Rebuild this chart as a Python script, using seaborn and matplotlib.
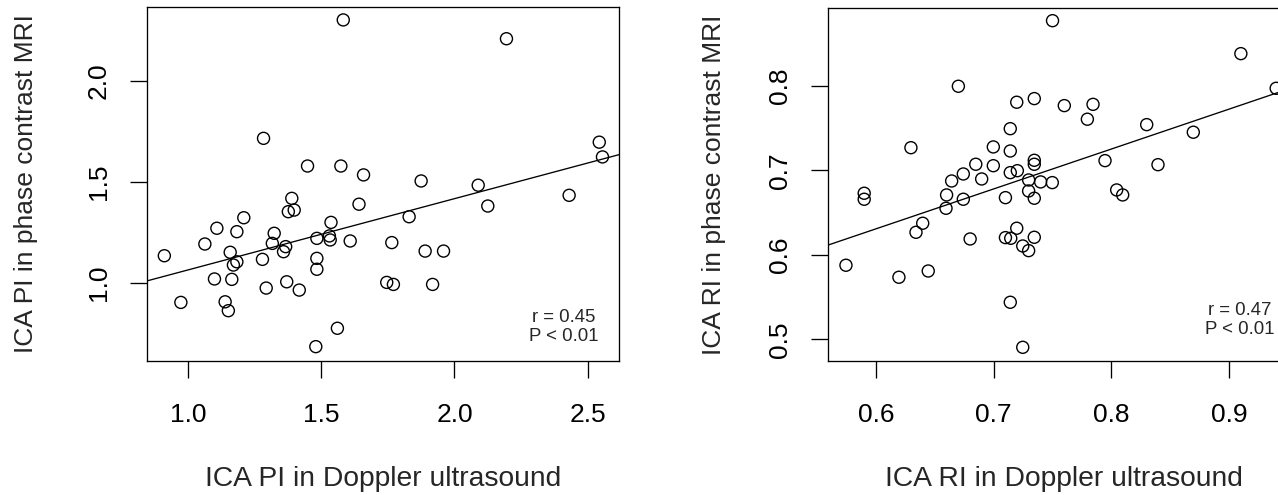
import numpy as np
import matplotlib
matplotlib.use("Agg")
import matplotlib.pyplot as plt
import seaborn as sns

# ---- data ----
pi_doppler = [1.583, 2.195, 1.284, 2.543, 2.555, 1.449, 1.574, 1.659, 1.875, 2.089,
              1.390, 2.430, 1.642, 2.125, 0.912, 0.974, 1.064, 1.109, 1.100, 1.140,
              1.152, 1.159, 1.165, 1.171, 1.184, 1.184, 1.210, 1.280, 1.294, 1.324,
              1.317, 1.367, 1.359, 1.371, 1.377, 1.399, 1.418, 1.484, 1.484, 1.484,
              1.480, 1.537, 1.531, 1.534, 1.561, 1.609, 1.765, 1.746, 1.771, 1.830,
              1.890, 1.959, 1.918]
pi_mri = [2.302, 2.209, 1.716, 1.697, 1.624, 1.579, 1.579, 1.535, 1.505, 1.484,
          1.419, 1.434, 1.390, 1.381, 1.135, 0.904, 1.193, 1.271, 1.020, 0.907,
          0.863, 1.152, 1.018, 1.089, 1.105, 1.254, 1.323, 1.117, 0.975, 1.246,
          1.196, 1.180, 1.155, 1.006, 1.353, 1.361, 0.965, 1.221, 1.122, 1.068,
          0.685, 1.300, 1.233, 1.213, 0.776, 1.208, 1.200, 1.003, 0.993, 1.328,
          1.158, 1.158, 0.993]

ri_doppler = [0.750, 0.910, 0.940, 0.670, 0.7196, 0.7345, 0.760, 0.7844, 0.7796, 0.830,
              0.8696, 0.7141, 0.6297, 0.6997, 0.7141, 0.6848, 0.6997, 0.7345, 0.7345, 0.7946,
              0.8396, 0.6742, 0.6643, 0.6898, 0.7141, 0.7201, 0.7297, 0.7399, 0.7498, 0.7297,
              0.7345, 0.8045, 0.8096, 0.590, 0.590, 0.660, 0.6742, 0.710, 0.6595, 0.6397,
              0.634, 0.680, 0.710, 0.7145, 0.7196, 0.7345, 0.7247, 0.7297, 0.5745, 0.6195,
              0.6444, 0.7141, 0.7247]
ri_mri = [0.877, 0.838, 0.797, 0.7994, 0.7805, 0.7848, 0.7765, 0.778, 0.7604, 0.754,
          0.745, 0.7492, 0.7267, 0.7276, 0.7228, 0.7071, 0.7054, 0.7118, 0.7071, 0.7114,
          0.7066, 0.6956, 0.6873, 0.6897, 0.6972, 0.6995, 0.6885, 0.6862, 0.6854, 0.6755,
          0.6669, 0.6767, 0.6708, 0.6728, 0.6657, 0.6708, 0.6657, 0.6676, 0.655, 0.6373,
          0.6266, 0.6187, 0.6203, 0.6195, 0.6314, 0.6207, 0.6104, 0.6049, 0.5876, 0.5734,
          0.5808, 0.5438, 0.4905]

pi_xticks = [1.0, 1.5, 2.0, 2.5]
pi_yticks = [1.0, 1.5, 2.0]
ri_xticks = [0.6, 0.7, 0.8, 0.9]
ri_yticks = [0.5, 0.6, 0.7, 0.8]
pi_stats = ["r = 0.45", "P < 0.01"]
ri_stats = ["r = 0.47", "P < 0.01"]

# ---- style ----
sns.set_style("ticks")
plt.rcParams["font.family"] = ["Liberation Sans", "DejaVu Sans"]
plt.rcParams["axes.edgecolor"] = "black"
plt.rcParams["axes.linewidth"] = 0.95
plt.rcParams["xtick.color"] = "black"
plt.rcParams["ytick.color"] = "black"

W, H = 1278, 495
fig = plt.figure(figsize=(W / 100, H / 100), dpi=100)


def px_axes(x0, x1, ytop, ybot):
    return fig.add_axes([x0 / W, 1 - ybot / H, (x1 - x0) / W, (ybot - ytop) / H])


ax1 = px_axes(147, 619, 7, 361)
ax2 = px_axes(828.3, 1300.3, 8, 361)

scatter_kws = dict(s=75, facecolors="none", edgecolors="black", linewidths=1.0, alpha=1)
line_kws = dict(color="black", linewidth=0.95)


def panel(ax, x, y, xlim, ylim, xticks, yticks, xlabel, ylabel, stats, sx, sy, ylab_x):
    ax.set_xlim(*xlim)
    ax.set_ylim(*ylim)
    sns.regplot(x=np.array(x), y=np.array(y), ax=ax, ci=None, truncate=False,
                color="black", scatter_kws=scatter_kws, line_kws=line_kws)
    ax.set_xlim(*xlim)
    ax.set_ylim(*ylim)
    ax.set_xticks(xticks)
    ax.set_yticks(yticks)
    ax.set_xticklabels([f"{t:.1f}" for t in xticks])
    ax.set_yticklabels([f"{t:.1f}" for t in yticks], rotation=90, va="center")
    ax.tick_params(axis="both", direction="out", length=12, width=0.95,
                   labelsize=19, colors="black")
    ax.tick_params(axis="x", pad=18.5)
    ax.tick_params(axis="y", pad=14)
    ax.set_xlabel(xlabel, fontsize=20.3)
    ax.set_ylabel(ylabel, fontsize=19)
    ax.xaxis.set_label_coords(0.5, -0.297)
    ax.yaxis.set_label_coords(ylab_x, 0.5)
    for s in ax.spines.values():
        s.set_visible(True)
        s.set_color("black")
        s.set_linewidth(0.95)
    ax.text(sx, sy[0], stats[0], transform=ax.transAxes, ha="center", va="baseline",
            fontsize=13.4)
    ax.text(sx, sy[1], stats[1], transform=ax.transAxes, ha="center", va="baseline",
            fontsize=13.4)


panel(ax1, pi_doppler, pi_mri, (0.847, 2.617), (0.614, 2.366), pi_xticks, pi_yticks,
      "ICA PI in Doppler ultrasound", "ICA PI in phase contrast MRI",
      pi_stats, 0.8835, (0.111, 0.0565), -0.231)
panel(ax2, ri_doppler, ri_mri, (0.5595, 0.9605), (0.4743, 0.892), ri_xticks, ri_yticks,
      "ICA RI in Doppler ultrasound", "ICA RI in phase contrast MRI",
      ri_stats, 0.872, (0.130, 0.0763), -0.217)

fig.savefig("out.png", dpi=100)
